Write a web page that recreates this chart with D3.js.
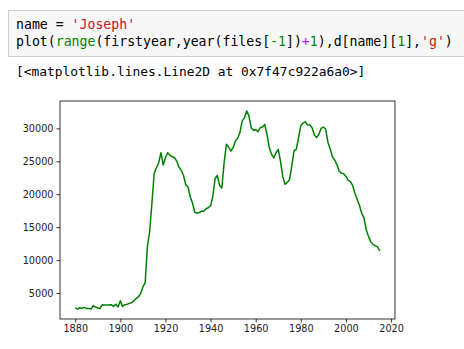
<!DOCTYPE html>
<html>
<head>
<meta charset="utf-8">
<script src="https://cdn.jsdelivr.net/npm/d3@7"></script>
<style>
  body { margin: 0; background: #fff; }
  svg { display: block; }
  .code { font-family: "DejaVu Sans Mono", monospace; font-size: 13.2px; }
  .out { font-family: "DejaVu Sans Mono", monospace; font-size: 12.9px; fill: #000; }
  .tick text { font-family: "DejaVu Sans", sans-serif; font-size: 9.7px; fill: #222; }
</style>
</head>
<body>
<svg width="464" height="349"></svg>
<script>
// Joseph, yearly counts (1880-2015)
const firstYear = 1880;
const counts = [
  2770, 2560, 2770, 2660, 2820, 2660, 2660, 2560, 3070, 2870,
  2720, 2660, 3230, 3170, 3170, 3170, 3230, 2970, 3280, 2870,
  3840, 2970, 3230, 3280, 3430, 3530, 3840, 4140, 4400, 4910,
  5930, 6540, 12040, 14340, 18670, 23150, 24010, 24780, 26310, 24420,
  25540, 26310, 25900, 25690, 25540, 25030, 24110, 23650, 22840, 21460,
  21100, 19570, 18650, 17270, 17120, 17220, 17430, 17430, 17790, 17940,
  18250, 19680, 22380, 22840, 21310, 20950, 24780, 27580, 27170, 26560,
  27070, 28090, 28490, 29360, 31100, 31600, 32650, 31900, 30100, 29700,
  29800, 29500, 30100, 30200, 30600, 29100, 27100, 26100, 25500, 26300,
  26800, 25000, 22700, 21500, 21800, 22200, 24300, 26600, 26800, 28600,
  30400, 30800, 31000, 30500, 30500, 30100, 29000, 28600, 29100, 30000,
  30200, 29900, 27900, 26900, 25700, 25200, 24500, 23500, 23200, 23100,
  22700, 22100, 21900, 21300, 20100, 19200, 18300, 17100, 16400, 14600,
  13600, 12800, 12400, 12200, 12000, 11400
];
const years = counts.map((c, i) => firstYear + i);
const xTicks = [1880, 1900, 1920, 1940, 1960, 1980, 2000, 2020];
const yTicks = [5000, 10000, 15000, 20000, 25000, 30000];

const codeLines = [
  [["name = ", "#000"], ["'Joseph'", "#BA2121"]],
  [["plot(", "#000"], ["range", "#008000"], ["(firstyear,year(files[", "#000"], ["-1", "#080"],
   ["])", "#000"], ["+", "#AA22FF"], ["1", "#080"], ["),d[name][", "#000"], ["1", "#080"],
   ["],", "#000"], ["'g'", "#BA2121"], [")", "#000"]]
];
const outputText = "[<matplotlib.lines.Line2D at 0x7f47c922a6a0>]";

const svg = d3.select('svg');

// notebook cell
svg.append('rect')
  .attr('x', 8.5).attr('y', 10.5)
  .attr('width', 470).attr('height', 46)
  .attr('fill', '#f7f7f7')
  .attr('stroke', '#cfcfcf');

codeLines.forEach((parts, i) => {
  const t = svg.append('text')
    .classed('code', true)
    .attr('x', 16)
    .attr('y', 29.3 + i * 16.9)
    .attr('xml:space', 'preserve');
  parts.forEach(p => t.append('tspan').attr('fill', p[1]).text(p[0]));
});

svg.append('text')
  .classed('out', true)
  .attr('x', 16).attr('y', 76.3)
  .text(outputText);

// plot
const AX = { left: 60, right: 395, top: 101, bottom: 319 };

const x0 = d3.min(years), x1 = d3.max(years);
const y0 = d3.min(counts), y1 = d3.max(counts);
const xPad = (x1 - x0) * 0.05, yPad = (y1 - y0) * 0.05;

const xScale = d3.scaleLinear().domain([x0 - xPad, x1 + xPad]).range([AX.left, AX.right]);
const yScale = d3.scaleLinear().domain([y0 - yPad, y1 + yPad]).range([AX.bottom, AX.top]);

const chart = svg.append('g');

chart.append('path')
  .datum(counts)
  .attr('fill', 'none')
  .attr('stroke', '#008000')
  .attr('stroke-width', 1.5)
  .attr('stroke-linejoin', 'round')
  .attr('d', d3.line().x((d, i) => xScale(years[i])).y(d => yScale(d)));

const xAxis = chart.append('g')
  .attr('transform', `translate(0, ${AX.bottom})`)
  .call(d3.axisBottom(xScale).tickValues(xTicks).tickFormat(d3.format('d')).tickSize(3.5).tickPadding(2.5).tickSizeOuter(0));

const yAxis = chart.append('g')
  .attr('transform', `translate(${AX.left}, 0)`)
  .call(d3.axisLeft(yScale).tickValues(yTicks).tickFormat(d3.format('d')).tickSize(3.5).tickPadding(3).tickSizeOuter(0));

[xAxis, yAxis].forEach(a => {
  a.select('.domain').remove();
  a.selectAll('.tick line').attr('stroke', '#000').attr('stroke-width', 0.8);
});

chart.append('rect')
  .attr('x', AX.left).attr('y', AX.top)
  .attr('width', AX.right - AX.left).attr('height', AX.bottom - AX.top)
  .attr('fill', 'none')
  .attr('stroke', '#000')
  .attr('stroke-width', 0.8);
</script>
</body>
</html>
